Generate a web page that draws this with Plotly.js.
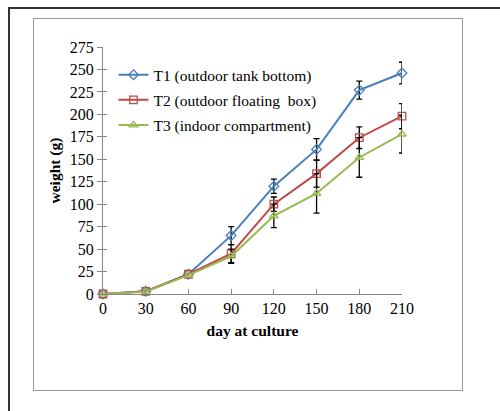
<!DOCTYPE html>
<html>
<head>
<meta charset="utf-8">
<script src="https://cdn.plot.ly/plotly-3.0.1.min.js"></script>
<style>
  html, body { margin: 0; padding: 0; background: #fff; }
  #wrap { position: relative; width: 500px; height: 411px; overflow: hidden; }
  #outer { position: absolute; left: 8px; top: 7px; width: 600px; height: 600px; border-left: 2px solid #333; border-top: 2px solid #333; }
  #inner { position: absolute; left: 33px; top: 18px; width: 428px; height: 371px; border: 1px solid #999; }
  #chart { position: absolute; left: 0; top: 0; width: 500px; height: 411px; }
</style>
</head>
<body>
<div id="wrap">
  <div id="outer"></div>
  <div id="inner"></div>
  <div id="chart"></div>
</div>
<script>
const days = [0, 30, 60, 90, 120, 150, 180, 210];
const t1 = [0, 3, 22, 65, 120, 161, 227, 246];
const t1Err = [NaN, NaN, NaN, 10, 8, 12, 10, 12];
const t2 = [0, 3, 22, 45, 100, 134, 174, 198];
const t2Err = [NaN, NaN, NaN, 10, 8, 15, 12, 14];
const t3 = [0, 2.5, 21, 42, 87, 112, 152, 178];
const t3Err = [NaN, NaN, NaN, 8, 13, 22, 22, 21];
const names = ['T1 (outdoor tank bottom)', 'T2 (outdoor floating\u00A0 box)', 'T3 (indoor compartment)'];
const yTicks = [0, 25, 50, 75, 100, 125, 150, 175, 200, 225, 250, 275];

const serif = '"Liberation Serif", "Times New Roman", serif';

function mk(y, err, name, color, symbol, grp) {
  return {
    x: days, y: y, name: name, type: 'scatter', mode: 'lines+markers',
    legendgroup: grp,
    line: { color: color, width: 2 },
    marker: { symbol: symbol, size: 7.5, color: color, line: { color: color, width: 1.3 } },
    error_y: { type: 'data', array: err, visible: true, color: '#000', thickness: 1.3, width: 3 },
    cliponaxis: false
  };
}

const data = [
  mk(t1, t1Err, names[0], '#4A7EBB', 'diamond-open', 'a'),
  mk(t2, t2Err, names[1], '#BE4B48', 'square-open', 'b'),
  mk(t3, t3Err, names[2], '#98B954', 'triangle-up-open', 'c'),
  { x: [], y: [], yaxis: 'y2', type: 'scatter', mode: 'markers', showlegend: false, hoverinfo: 'skip' }
];

const layout = {
  width: 500, height: 411,
  margin: { l: 103, r: 98, t: 47, b: 117, pad: 0 },
  paper_bgcolor: 'rgba(0,0,0,0)',
  plot_bgcolor: 'rgba(0,0,0,0)',
  font: { family: serif, size: 14, color: '#000' },
  showlegend: true,
  legend: {
    x: 0.035, y: 0.955, xanchor: 'left', yanchor: 'top',
    bgcolor: 'rgba(0,0,0,0)', borderwidth: 0,
    font: { family: serif, size: 15.5, color: '#000' },
    tracegroupgap: 2, itemwidth: 30
  },
  xaxis: {
    range: [0, 210], tickvals: days, ticks: 'inside', ticklen: 5, tickcolor: '#888', tickwidth: 1,
    showline: true, linecolor: '#888', linewidth: 1, showgrid: false, zeroline: false,
    tickfont: { family: serif, size: 16, color: '#000' },
    title: { text: '<b>day at culture</b>', font: { family: serif, size: 15.5, color: '#000' }, standoff: 8 }
  },
  yaxis: {
    range: [0, 275], tickvals: yTicks, ticks: 'outside', ticklen: 5, tickcolor: '#888', tickwidth: 1,
    showline: true, linecolor: '#888', linewidth: 1, showgrid: false, zeroline: false,
    tickfont: { family: serif, size: 16, color: '#000' },
    title: { text: '<b>weight (g)</b>', font: { family: serif, size: 15.5, color: '#000' }, standoff: 5 }
  },
  yaxis2: {
    overlaying: 'y', anchor: 'x', side: 'left', range: [0, 275], tickvals: yTicks, ticks: 'inside', ticklen: 4,
    tickcolor: '#888', tickwidth: 1, showticklabels: false, showline: false, showgrid: false, zeroline: false
  }
};

Plotly.newPlot('chart', data, layout, { displayModeBar: false, staticPlot: true });
</script>
</body>
</html>
